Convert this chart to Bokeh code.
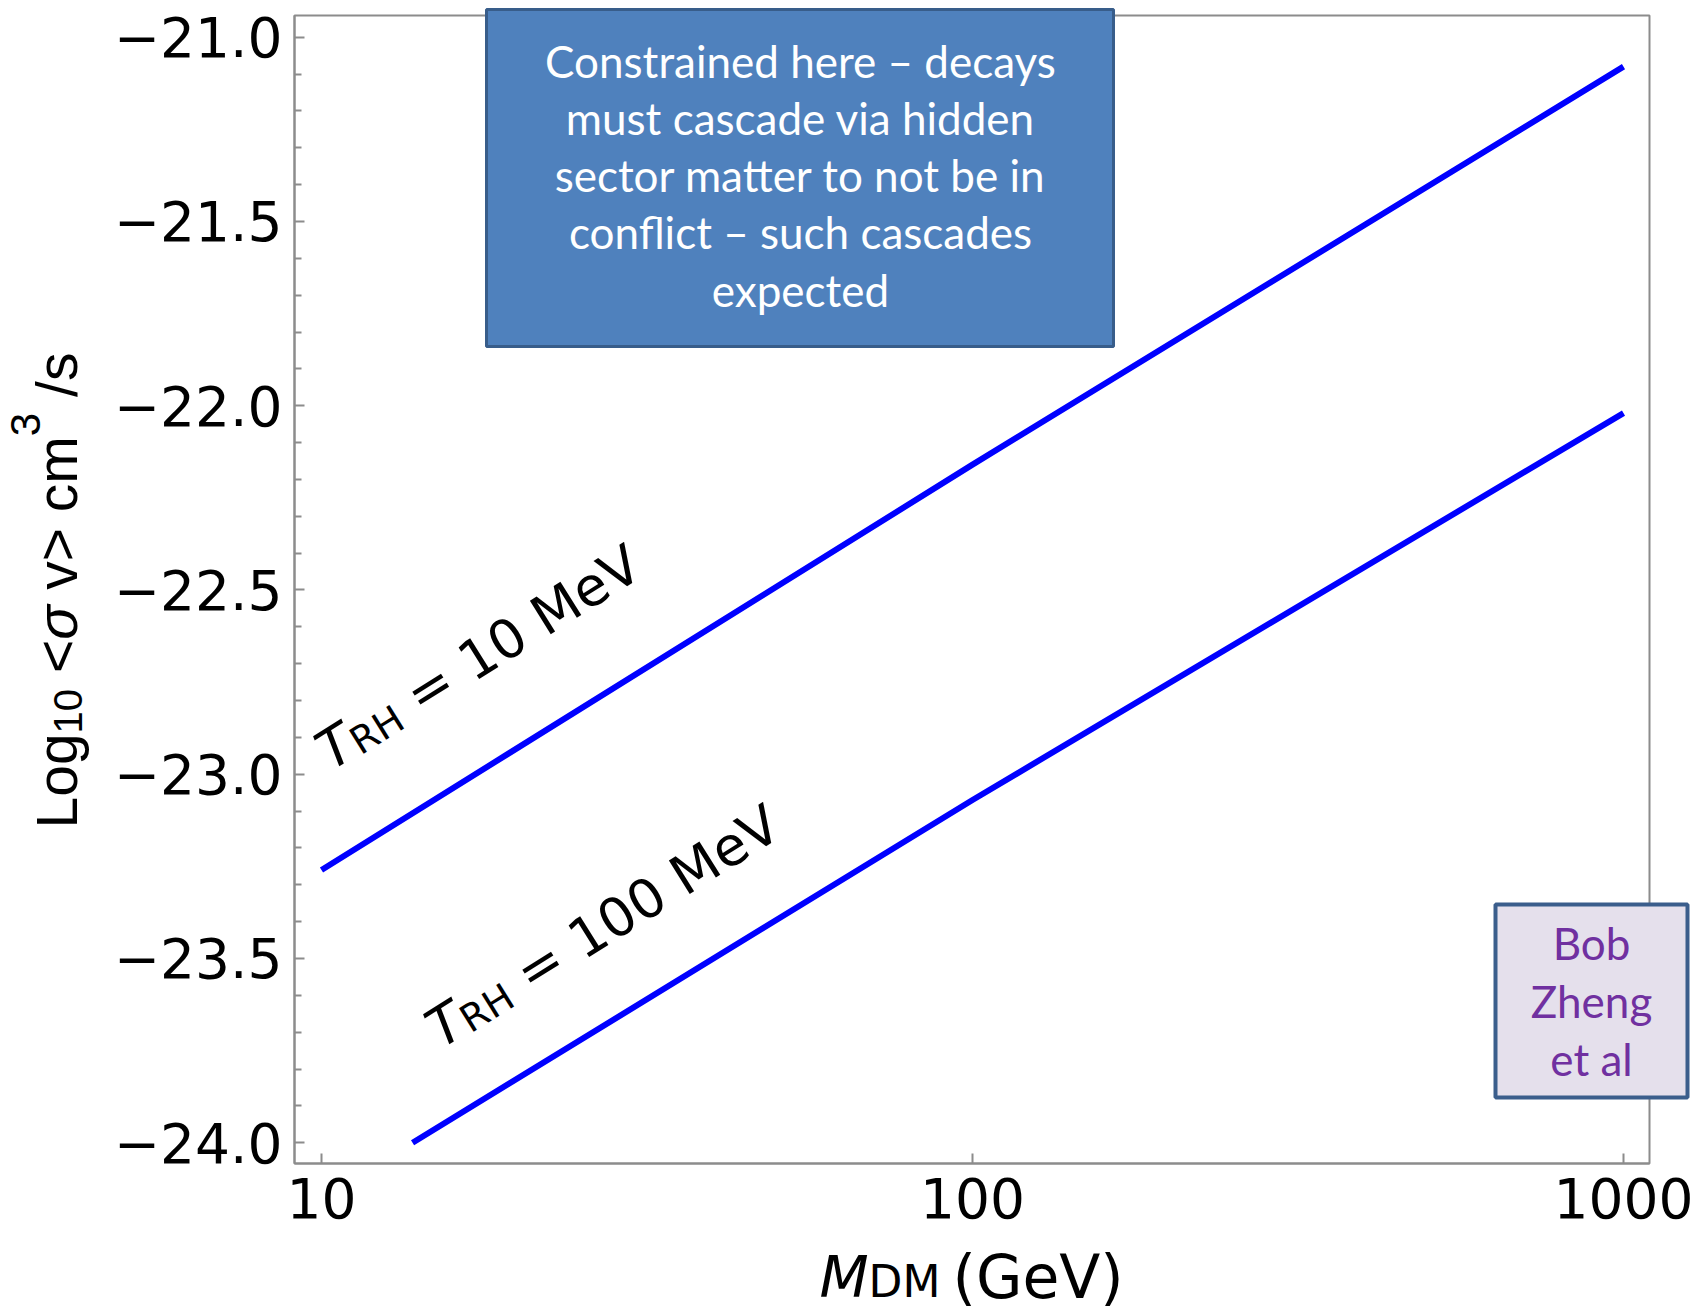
import math
from bokeh.plotting import figure
from bokeh.models import Range1d, FixedTicker, CustomJSTickFormatter, Label, BoxAnnotation
from bokeh.embed import file_html
from bokeh.resources import INLINE

# ---------------- data ----------------
mass_10mev = [10, 100, 1000]
logsv_10mev = [-23.26, -22.16, -21.08]
mass_100mev = [13.8, 100, 1000]
logsv_100mev = [-24.0, -23.07, -22.02]

x_ticks = [10, 100, 1000]
y_ticks = [-24.0, -23.5, -23.0, -22.5, -22.0, -21.5, -21.0]
y_minor_ticks = [-23.9, -23.8, -23.7, -23.6, -23.4, -23.3, -23.2, -23.1,
                 -22.9, -22.8, -22.7, -22.6, -22.4, -22.3, -22.2, -22.1,
                 -21.9, -21.8, -21.7, -21.6, -21.4, -21.3, -21.2, -21.1]

box_lines = ["Constrained here \u2013 decays", "must cascade via hidden",
             "sector matter to not be in", "conflict \u2013 such cascades", "expected"]
credit_lines = ["Bob", "Zheng", "et al"]

# ---------------- pixel <-> data helpers (canvas coordinates) ----------------
W, H = 1696, 1312
X10_PX, DEC_PX = 321.0, 651.0
YM21_PX, UNIT_PX = 36.7, 368.5
FR_L, FR_R, FR_T, FR_B = 294, 1649, 15, 1163   # visible plot frame


def px2x(px):
    return 10 ** (1 + (px - X10_PX) / DEC_PX)


def py2y(py):
    return -21.0 - (py - YM21_PX) / UNIT_PX


p = figure(width=W, height=H, x_axis_type="log",
           x_range=Range1d(px2x(0), px2x(W)),
           y_range=Range1d(py2y(H), py2y(0)),
           output_backend="svg", toolbar_location=None,
           min_border=0, min_border_left=0, min_border_right=0,
           min_border_top=0, min_border_bottom=0)

p.xgrid.visible = False
p.ygrid.visible = False
p.outline_line_color = None
p.background_fill_color = "white"
p.border_fill_color = "white"

GRAY = "#8c8c8c"
for ax in (p.xaxis[0], p.yaxis[0]):
    ax.axis_line_color = GRAY
    ax.axis_line_width = 2
    ax.major_tick_line_color = GRAY
    ax.major_tick_line_width = 2
    ax.major_tick_in = 10
    ax.major_tick_out = 0
    ax.minor_tick_line_color = GRAY
    ax.minor_tick_line_width = 2
    ax.minor_tick_in = 7
    ax.minor_tick_out = 0
    ax.major_label_text_font = "DejaVu Sans"
    ax.major_label_text_font_size = "55px"
    ax.major_label_text_color = "black"

p.xaxis.ticker = FixedTicker(ticks=x_ticks, minor_ticks=[])
p.yaxis.ticker = FixedTicker(ticks=y_ticks, minor_ticks=y_minor_ticks)
p.xaxis.formatter = CustomJSTickFormatter(code="return Math.round(tick).toString();")
p.yaxis.formatter = CustomJSTickFormatter(
    code="return (tick < 0 ? '\\u2212' : '') + Math.abs(tick).toFixed(1);")
p.xaxis.major_label_standoff = 14
p.yaxis.major_label_standoff = 12
p.xaxis.fixed_location = py2y(FR_B)
p.yaxis.fixed_location = px2x(FR_L)
p.xaxis.bounds = (px2x(FR_L), px2x(FR_R))
p.yaxis.bounds = (py2y(FR_B), py2y(FR_T))

# visible frame (top / right edges)
p.add_layout(BoxAnnotation(left=px2x(FR_L), right=px2x(FR_R), top=py2y(FR_T), bottom=py2y(FR_B),
                           fill_alpha=0.0, line_color=GRAY, line_alpha=1.0, line_width=2))

# ---------------- curves ----------------
p.line(mass_10mev, logsv_10mev, line_color="#0000ff", line_width=6)
p.line(mass_100mev, logsv_100mev, line_color="#0000ff", line_width=6)

# ---------------- boxes ----------------
p.add_layout(BoxAnnotation(left=px2x(486), right=px2x(1113), top=py2y(9), bottom=py2y(346),
                           fill_color="#4f81bd", fill_alpha=1.0,
                           line_color="#385d8a", line_alpha=1.0, line_width=3))
p.add_layout(BoxAnnotation(left=px2x(1495), right=px2x(1687), top=py2y(904), bottom=py2y(1097),
                           fill_color="#e5e0ec", fill_alpha=1.0,
                           line_color="#3b5e8c", line_alpha=1.0, line_width=4))

for i, t in enumerate(box_lines):
    p.add_layout(Label(x=px2x(800), y=py2y(60 + 57.3 * i), text=t,
                       text_font="Lato", text_font_size="44px", text_color="white",
                       text_align="center", text_baseline="middle"))
for i, t in enumerate(credit_lines):
    p.add_layout(Label(x=px2x(1591), y=py2y(942 + 58 * i), text=t,
                       text_font="Lato", text_font_size="44px", text_color="#7030a0",
                       text_align="center", text_baseline="middle"))

# ---------------- rich-text runs (sub/superscripts) ----------------
DV = {"T": .611, "R": .695, "H": .752, " ": .318, "=": .838, "1": .636, "0": .636,
      "M": .863, "e": .615, "V": .684, "D": .770, "(": .390, "G": .775, ")": .390}
LS = {"L": .556, "o": .556, "g": .556, "1": .556, "0": .556, " ": .278, "<": .584,
      "\u03c3": .60, "v": .5, ">": .584, "c": .5, "m": .833, "3": .556, "/": .278, "s": .5}


def add_run(pieces, sx0, sy0, angle_deg, font, table):
    """pieces: (text, size, style, shift, absolute position along the run or None)"""
    a = math.radians(angle_deg)
    ux, uy = math.cos(a), -math.sin(a)
    nx, ny = math.sin(a), math.cos(a)
    pos = 0.0
    for text, size, style, shift, at in pieces:
        if at is not None:
            pos = at
        stripped = text.lstrip(" ")
        pos += (len(text) - len(stripped)) * table[" "] * size
        sx = sx0 + ux * pos + nx * shift
        sy = sy0 + uy * pos + ny * shift
        p.add_layout(Label(x=px2x(sx), y=py2y(sy), text=stripped, angle=a,
                           text_font=font, text_font_size=f"{size}px",
                           text_font_style=style, text_color="black",
                           text_align="left", text_baseline="alphabetic"))
        pos += sum(table.get(c, 0.6) for c in stripped) * size


# y-axis label
add_run([("Log", 57, "normal", 0, None), ("10", 40, "normal", 11, None),
         (" <", 57, "normal", 0, None), ("\u03c3", 57, "italic", 0, None),
         (" v> cm", 57, "normal", 0, None), ("3", 42, "normal", -31, None),
         (" /s", 57, "normal", 0, None)],
        56, 828, 90, "Liberation Sans", LS)

# x-axis label
add_run([("M", 57, "italic", 0, 0), ("DM", 44, "normal", 5, 49),
         ("(GeV)", 60, "normal", 0, 133)],
        819, 1276, 0, "DejaVu Sans", DV)

# curve labels
add_run([("T", 54, "italic", 0, None), ("RH", 38, "normal", 8, None),
         (" = 10 MeV", 54, "normal", 0, None)],
        321, 755, 32, "DejaVu Sans", DV)
add_run([("T", 54, "italic", 0, None), ("RH", 38, "normal", 8, None),
         (" = 100 MeV", 54, "normal", 0, None)],
        431, 1033, 32, "DejaVu Sans", DV)

open("out.html", "w").write(file_html(p, INLINE))
